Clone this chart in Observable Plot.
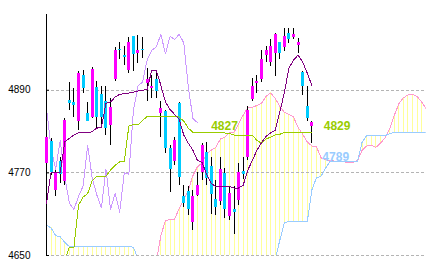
<!DOCTYPE html>
<html><head><meta charset="utf-8">
<script src="https://cdn.jsdelivr.net/npm/d3@7"></script>
<script src="https://cdn.jsdelivr.net/npm/@observablehq/plot@0.6"></script>
<style>html,body{margin:0;padding:0;background:#fff}svg{display:block}</style>
</head><body><div id="chart"></div>
<script>
// Candles (index 0..58)
const opens = [4784,4815,4744,4786,4757,4875,4872,4844,4912,4856,4850,4894,4884,4873,4839,4905,4949,4940,4919,4968,4943,4949,4900,4892,4905,4856,4859,4806,4787,4871,4736,4743,4698,4737,4770,4800,4779,4732,4729,4769,4706,4717,4730,4772,4793,4877,4900,4905,4940,4930,4943,4959,4952,4972,4966,4955,4916,4867,4838];
const highs = [4830,4820,4774,4793,4849,4901,4892,4917,4919,4872,4923,4902,4895,4895,4878,4952,4960,4953,4966,4968,4970,4967,4922,4912,4916,4873,4861,4810,4822,4872,4752,4750,4745,4771,4813,4814,4793,4759,4793,4776,4750,4750,4784,4793,4867,4907,4911,4948,4953,4963,4973,4960,4980,4980,4980,4965,4917,4895,4844];
const lows = [4778,4766,4735,4754,4752,4861,4851,4832,4885,4844,4849,4835,4835,4825,4810,4902,4934,4926,4914,4917,4929,4936,4873,4878,4878,4822,4798,4742,4781,4751,4720,4708,4686,4735,4759,4752,4709,4708,4723,4704,4701,4680,4723,4760,4788,4873,4885,4901,4930,4925,4910,4934,4946,4958,4964,4943,4883,4844,4813];
const closes = [4822,4771,4771,4768,4846,4871,4868,4914,4892,4845,4920,4851,4851,4835,4865,4948,4947,4938,4960,4942,4948,4947,4906,4896,4888,4864,4806,4775,4817,4764,4726,4717,4736,4751,4810,4762,4738,4719,4775,4717,4740,4713,4770,4768,4861,4896,4902,4934,4948,4953,4971,4943,4968,4964,4971,4959,4895,4849,4843];

// Conversion line (dark purple) and base line (green), index 0..58
const tenkan = [4726,4771,4771,4771,4815,4820,4825,4828,4828,4828,4830,4835,4836,4871,4873,4880,4884,4885,4886,4887,4889,4890,4891,4919,4919,4897,4873,4862,4855,4848,4825,4813,4803,4788,4785,4768,4755,4750,4750,4750,4750,4748,4748,4752,4774,4788,4803,4814,4823,4828,4832,4858,4887,4922,4934,4941,4931,4915,4897];
const kijun = [4628,4630,4632,4635,4643,4662,4662,4723,4735,4740,4759,4765,4765,4765,4774,4781,4786,4786,4838,4840,4840,4846,4852,4852,4852,4852,4852,4852,4852,4851,4845,4835,4829,4828,4828,4828,4828,4828,4828,4828,4827,4825,4825,4825,4825,4825,4817,4813,4819,4822,4825,4826,4829,4829,4829,4829,4829,4829,4829];

// Lagging span (light purple), index 0..33
const lagging = [4864,4806,4775,4817,4764,4726,4717,4736,4751,4810,4762,4738,4719,4775,4717,4740,4713,4770,4768,4861,4896,4902,4934,4948,4953,4971,4943,4968,4964,4971,4959,4895,4849,4843];

// Leading spans, index 0..83 (values below 4650 fall under the plot floor)
const spanA = [4632,4628,4625,4630,4636,4633,4627,4624,4629,4635,4638,4634,4630,4626,4631,4637,4640,4636,4633,4629,4634,4638,4641,4637,4641,
  4679,4701,4702,4703,4718,4731,4745,4766,4779,4784,4797,4803,4807,4819,4822,4828,4829,4841,4854,4865,4865,4868,4871,4881,4886,4878,4867,4858,4855,4851,4836,4826,4815,4809,4808,4792,4789,4788,4787,4786,4786,4785,4785,4788,4803,4809,4810,4807,4813,4821,4834,4853,4870,4879,4883,4884,4881,4873,4863];
const spanB = [4694,4690,4679,4677,4669,4663,4663,4663,4663,4663,4663,4663,4663,4663,4663,4663,4663,4663,4663,4662,
  4645,4641,4638,4636,4634,4633,4632,4631,4630,4630,4629,4629,4628,4628,4628,4627,4627,4627,4628,4628,4629,4630,4631,4632,4633,4635,4636,4638,4640,4642,4645,
  4672,4698,4699,4699,4699,4699,4699,4745,4763,4765,4777,4787,4787,4787,4787,4787,4787,4787,4815,4824,4824,4824,4824,4824,4827,4829,4829,4829,4829,4829,4829,4829,4829];

const yTicks = [4650, 4770, 4890];
const labelText = ["4827", "4829", "4789"];
const labelValue = [4827, 4829, 4789];
const labelIndex = [36, 60.6, 60.3];
const labelColor = ["#99cc00", "#99cc00", "#99ccff"];
const labelShift = [-7, -6, -3];

const candles = opens.map((o, i) => ({i, open: o, high: highs[i], low: lows[i], close: closes[i]}));
const cloud = spanA.map((a, j) => ({j, a, b: spanB[j]}));
const lines = tenkan.map((t, i) => ({i, t, k: kijun[i]}));
const lag = lagging.map((v, i) => ({i, v}));
const labels = labelText.map((t, n) => ({t, v: labelValue[n], i: labelIndex[n], c: labelColor[n], s: labelShift[n]}));

const crisp = "crispEdges";
const chart = Plot.plot({
  width: 431, height: 269,
  marginLeft: 46, marginRight: 5.3, marginTop: 14, marginBottom: 14,
  style: {fontFamily: "Liberation Sans", fontSize: "10px", background: "#fff", color: "#000"},
  x: {domain: [0, 83], axis: null},
  y: {domain: [4650, 5000], label: null, axis: null},
  marks: [
    Plot.ruleX(cloud, {x: "j", y1: "a", y2: "b", stroke: "#ffff99", strokeWidth: 1, clip: true, shapeRendering: crisp}),
    Plot.ruleY(yTicks, {stroke: "#b4b4b4", strokeDasharray: "3,2", strokeWidth: 1, shapeRendering: crisp}),
    Plot.line(cloud, {x: "j", y: "a", stroke: "#ff99cc", strokeWidth: 1, clip: true, shapeRendering: crisp}),
    Plot.line(cloud, {x: "j", y: "b", stroke: "#99ccff", strokeWidth: 1, clip: true, shapeRendering: crisp}),
    Plot.line(lag, {x: "i", y: "v", stroke: "#cc99ff", strokeWidth: 1, shapeRendering: crisp}),
    Plot.frame({anchor: "left", stroke: "#000", shapeRendering: crisp}),
    Plot.axisY(yTicks, {anchor: "left", tickSize: -3, tickPadding: 19, tickFormat: d3.format("d"), fontSize: 10, fill: "#000", stroke: "#000", label: null}),
    Plot.ruleX(candles, {x: "i", y1: "low", y2: "high", stroke: "#000", strokeWidth: 1, shapeRendering: crisp}),
    Plot.ruleX(candles, {x: "i", y1: "open", y2: "close", stroke: d => d.close >= d.open ? "#ff00ff" : "#00ccff", strokeWidth: 3, shapeRendering: crisp}),
    Plot.line(lines, {x: "i", y: "k", stroke: "#99cc00", strokeWidth: 1, clip: true, shapeRendering: crisp}),
    Plot.line(lines, {x: "i", y: "t", stroke: "#800080", strokeWidth: 1, clip: true, shapeRendering: crisp}),
    ...labels.map(l => Plot.text([l], {x: "i", y: "v", text: "t", fill: l.c, dy: l.s, textAnchor: "start", lineAnchor: "middle", fontWeight: "bold", fontSize: 12, fontFamily: "Liberation Sans"}))
  ]
});
document.getElementById("chart").appendChild(chart);
</script>
</body></html>
